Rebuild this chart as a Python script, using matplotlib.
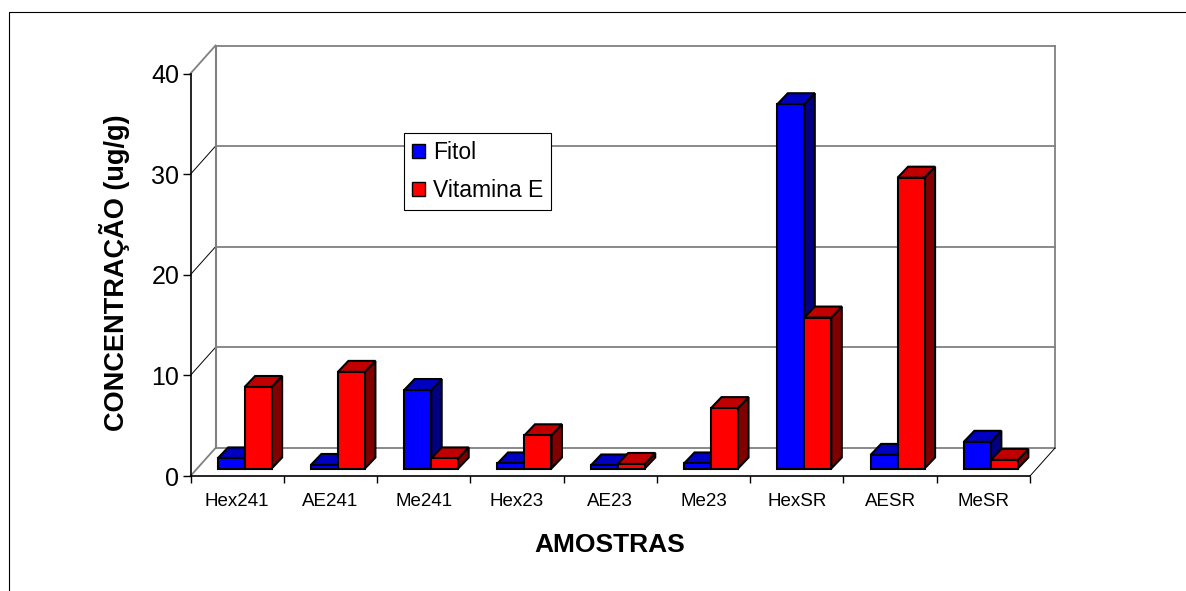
import matplotlib
matplotlib.use("Agg")
import matplotlib.pyplot as plt
from matplotlib.patches import Patch, Polygon

plt.rcParams['font.family'] = ['Liberation Sans', 'DejaVu Sans']

# Data
amostras = ['Hex241', 'AE241', 'Me241', 'Hex23', 'AE23', 'Me23', 'HexSR', 'AESR', 'MeSR']
fitol = [1.0, 0.35, 7.8, 0.5, 0.3, 0.5, 36.2, 1.35, 2.65]
vitamina_e = [8.1, 9.6, 1.0, 3.3, 0.45, 6.0, 15.0, 28.9, 0.85]
y_ticks = [0, 10, 20, 30, 40]

W, H = 1186, 591
fig = plt.figure(figsize=(W / 100, H / 100), dpi=100, facecolor='white')

# axes is the front plane of the fake 3D box
left, right, bottom, top = 190.5, 1030, 476, 73.5
ax = fig.add_axes([left / W, 1 - bottom / H, (right - left) / W, (bottom - top) / H])
ax.set_xlim(0, len(amostras))
ax.set_ylim(0, 40)
ax.patch.set_alpha(0)

px_x = len(amostras) / (right - left)
px_y = 40 / (bottom - top)

# oblique offsets
wall_dx, wall_dy = 25 * px_x, 28 * px_y
base_dx, base_dy = 7.5 * px_x, 7.5 * px_y
depth_dx, depth_dy = 10.5 * px_x, 11 * px_y
bar_w = 27 * px_x
n = len(amostras)

# back wall, floor and gridlines
gray = '#808080'
for v in y_ticks:
    ax.plot([wall_dx, n + wall_dx], [v + wall_dy, v + wall_dy], color=gray, lw=1.3, zorder=1, clip_on=False)
    diag = gray if v in (0, 40) else 'black'
    ax.plot([0, wall_dx], [v, v + wall_dy], color=diag, lw=1.3 if v in (0, 40) else 0.7, zorder=1, clip_on=False)
ax.plot([wall_dx, wall_dx], [wall_dy, 40 + wall_dy], color=gray, lw=1.5, zorder=1, clip_on=False)
ax.plot([n + wall_dx, n + wall_dx], [wall_dy, 40 + wall_dy], color=gray, lw=1.3, zorder=1, clip_on=False)
ax.plot([n, n + wall_dx], [0, wall_dy], color='black', lw=0.7, zorder=1, clip_on=False)


def draw_bar(x, v, front, top_c, side):
    y0 = base_dy
    y1 = base_dy + v
    kw = dict(edgecolor='black', lw=1.5, joinstyle='miter', zorder=3, clip_on=False)
    ax.add_patch(Polygon([(x + bar_w, y0), (x + bar_w + depth_dx, y0 + depth_dy),
                          (x + bar_w + depth_dx, y1 + depth_dy), (x + bar_w, y1)], facecolor=side, **kw))
    ax.add_patch(Polygon([(x, y1), (x + depth_dx, y1 + depth_dy),
                          (x + bar_w + depth_dx, y1 + depth_dy), (x + bar_w, y1)], facecolor=top_c, **kw))
    ax.add_patch(Polygon([(x, y0), (x + bar_w, y0), (x + bar_w, y1), (x, y1)], facecolor=front, **kw))


for i in range(n):
    x0 = i + 0.5 - bar_w + base_dx
    draw_bar(x0, fitol[i], '#0000FF', '#0000C0', '#000080')
    draw_bar(x0 + bar_w, vitamina_e[i], '#FF0000', '#C00000', '#800000')

# axes and labels
for s in ('top', 'right'):
    ax.spines[s].set_visible(False)
ax.spines['left'].set_linewidth(1.2)
ax.spines['bottom'].set_linewidth(1.2)
ax.set_yticks(y_ticks)
ax.tick_params(axis='y', labelsize=18, length=6, width=1, pad=2)
ax.set_xticks(range(n + 1))
ax.set_xticklabels([])
ax.set_xticks([i + 0.5 for i in range(n)], labels=amostras, minor=True)
ax.tick_params(axis='x', which='major', length=5, width=1)
ax.tick_params(axis='x', which='minor', length=0, labelsize=13.5, pad=12)

fig.text(115 / W, 1 - 273 / H, 'CONCENTRAÇÃO (ug/g)', rotation=90, fontsize=19.5, fontweight='bold',
         ha='center', va='center')
fig.text(610 / W, 1 - 545 / H, 'AMOSTRAS', fontsize=19, fontweight='bold', ha='center', va='center')

# legend
handles = [Patch(facecolor='#0000FF', edgecolor='black', label='Fitol'),
           Patch(facecolor='#FF0000', edgecolor='black', label='Vitamina E')]
leg = ax.legend(handles=handles, loc='upper left', bbox_to_anchor=((404 - left) / (right - left), (bottom - 133) / (bottom - top)),
                fontsize=16.5, frameon=True, fancybox=False, framealpha=1, edgecolor='black',
                handlelength=0.57, handleheight=0.57, handletextpad=0.36, labelspacing=0.68,
                borderpad=0.34, borderaxespad=0)
leg.get_frame().set_linewidth(0.8)
leg.set_zorder(5)

# outer chart frame, only top and left show
fig.add_artist(plt.Line2D([9 / W, 9 / W, 1], [0, 1 - 12 / H, 1 - 12 / H], color='black', lw=0.8))

fig.savefig('out.png', dpi=100)
